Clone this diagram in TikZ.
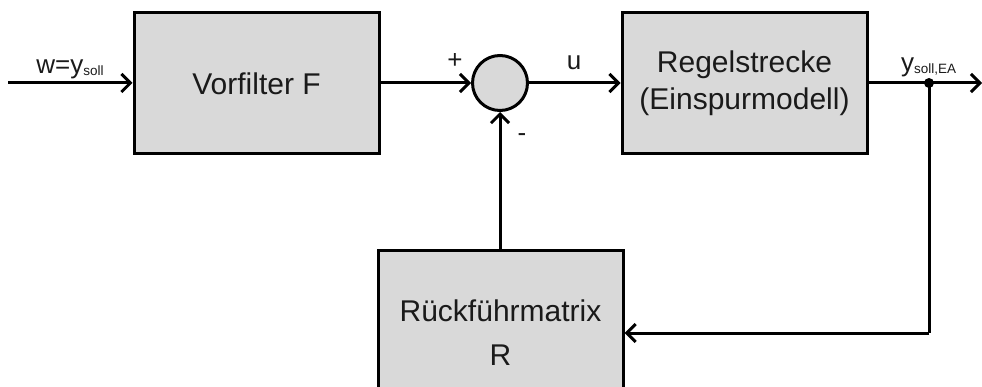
\documentclass[tikz,border=0pt]{standalone}
\usepackage{fontspec}
\setmainfont{Liberation Sans}
\usetikzlibrary{arrows.meta}
\definecolor{boxgray}{HTML}{D9D9D9}
\definecolor{txt}{HTML}{1A1A1A}
\begin{document}
\begin{tikzpicture}[x=1pt,y=-1pt,
  blk/.style={draw,line width=3pt,fill=boxgray,minimum width=245pt,minimum height=141pt,inner sep=0pt,align=center,text=txt,font=\fontsize{30}{44}\selectfont},
  ln/.style={line width=3pt},
  arr/.style={ln,-{Straight Barb[length=9pt,width=18pt,line width=3pt]}},
  lbl/.style={font=\fontsize{26}{30}\selectfont,inner sep=0pt,text=txt},
]
\useasboundingbox (0,0) rectangle (982,387);
\clip (0,0) rectangle (982,387);
\coordinate (in) at (8,83);
\node[blk] (F) at (256.5,83.5) {Vorfilter F};
\node[draw,line width=3pt,fill=boxgray,circle,minimum size=55pt,inner sep=0pt] (S) at (500,83) {};
\node[blk,font=\fontsize{30}{37}\selectfont] (P) at (744.5,83.5) {Regelstrecke\\(Einspurmodell)};
\node[blk,minimum height=164pt] (R) at (500.5,333) {Rückführmatrix\\R};
\fill (929,83) circle (5pt) coordinate (d);
\coordinate (out) at (982,83);
\coordinate (c) at (929,333);

\draw[arr] (in) -- (F.west |- in);
\draw[arr] (F.east |- S) -- (S.west);
\draw[arr] (S.east) -- (P.west |- S);
\draw[arr] (P.east |- d) -- (out);
\draw[ln] (d) -- (c);
\draw[arr] (c) -- (R.east |- c);
\draw[arr] (R.north -| S) -- (S.south);

\node[lbl,anchor=base] (lw) at (70,74) {w=y\raisebox{-2pt}{\fontsize{13.5}{15}\selectfont soll}};
\node[lbl,anchor=center] (lp) at (455,61) {+};
\node[lbl,anchor=base] (lu) at (574,70) {u};
\node[lbl,anchor=center] (lm) at (522,138) {-};
\node[lbl,anchor=base west] (ly) at (901,72) {y\raisebox{-2pt}{\fontsize{13.5}{15}\selectfont soll,EA}};
\end{tikzpicture}
\end{document}
